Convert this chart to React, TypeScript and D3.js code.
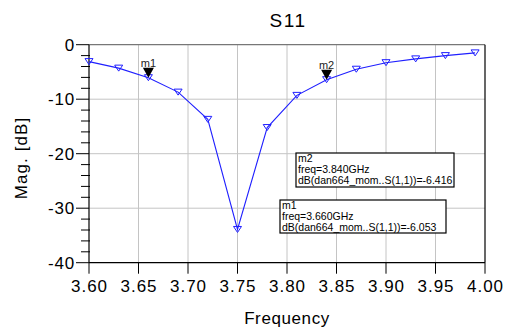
import React from 'react';
import * as d3 from 'd3';

// frequency (GHz) and magnitude (dB)
const freq = [3.6, 3.63, 3.66, 3.69, 3.72, 3.75, 3.78, 3.81, 3.84, 3.87, 3.9, 3.93, 3.96, 3.99];
const mag = [-3.1, -4.3, -6.053, -8.7, -13.7, -33.9, -15.2, -9.3, -6.416, -4.5, -3.3, -2.6, -2.0, -1.5];

const xTicks = [3.6, 3.65, 3.7, 3.75, 3.8, 3.85, 3.9, 3.95, 4.0];
const yTicks = [0, -10, -20, -30, -40];

const markers = [
  { name: 'm1', f: 3.66, v: -6.053, label: '3.660GHz', val: '-6.053' },
  { name: 'm2', f: 3.84, v: -6.416, label: '3.840GHz', val: '-6.416' },
];

const width = 511;
const height = 331;
const margin = { top: 44.7, right: 26, bottom: 68.3, left: 89 };
const font = '"Liberation Sans", Arial, sans-serif';

const App: React.FC = () => {
  const x = d3.scaleLinear().domain([3.6, 4.0]).range([margin.left, width - margin.right]);
  const y = d3.scaleLinear().domain([-40, 0]).range([height - margin.bottom, margin.top]);

  const line = d3.line<number>()
    .x((_, i) => x(freq[i]))
    .y(d => y(d));

  const minorY = d3.range(-40, 0.1, 2).filter(v => v % 10 !== 0);
  const x0 = x(3.6), x1 = x(4.0), y0 = y(-40), y1 = y(0);

  // marker info boxes (m2 above m1)
  const boxes = [
    { m: markers[1], bx: 296, by: 153, bw: 158, bh: 34 },
    { m: markers[0], bx: 280, by: 200, bw: 166, bh: 33 },
  ];

  return (
    <svg width={width} height={height} style={{ position: 'absolute', left: 0, top: 0, background: '#fff' }}
      fontFamily={font}>
      {/* grid */}
      {xTicks.slice(1, -1).map(t => (
        <line key={'gx' + t} x1={x(t)} x2={x(t)} y1={y1} y2={y0} stroke="#c4c4c4" strokeWidth={1} />
      ))}
      {yTicks.slice(1, -1).map(t => (
        <line key={'gy' + t} x1={x0} x2={x1} y1={y(t)} y2={y(t)} stroke="#c4c4c4" strokeWidth={1} />
      ))}
      {/* frame */}
      <line x1={x0} x2={x1} y1={y1} y2={y1} stroke="#777" strokeWidth={1.2} />
      <line x1={x1} x2={x1} y1={y1} y2={y0} stroke="#000" strokeWidth={1.2} />
      <line x1={x0} x2={x1} y1={y0} y2={y0} stroke="#000" strokeWidth={1.2} />
      <line x1={x0} x2={x0} y1={y1} y2={y0} stroke="#000" strokeWidth={1.2} />
      {/* y ticks */}
      {yTicks.map(t => (
        <g key={'yt' + t}>
          <line x1={x0 - 13} x2={x0} y1={y(t)} y2={y(t)} stroke="#000" strokeWidth={1} />
          <text x={x0 - 14} y={y(t)} dy="0.36em" textAnchor="end" fontSize={17} letterSpacing={0.8}>{t}</text>
        </g>
      ))}
      {minorY.map(t => (
        <line key={'my' + t} x1={x0 - 8} x2={x0 + 1} y1={y(t)} y2={y(t)} stroke="#000" strokeWidth={1} />
      ))}
      {/* x ticks */}
      {xTicks.map(t => (
        <g key={'xt' + t}>
          <line x1={x(t)} x2={x(t)} y1={y0} y2={y0 + 11} stroke="#000" strokeWidth={1} />
          <text x={x(t) + 0.5} y={y0 + 29} textAnchor="middle" fontSize={17} letterSpacing={1}>{t.toFixed(2)}</text>
        </g>
      ))}
      {/* curve */}
      <path d={line(mag) || ''} fill="none" stroke="#1f1fff" strokeWidth={1.1} />
      {mag.map((v, i) => {
        const cx = x(freq[i]), cy = y(v);
        return (
          <path key={'p' + i} d={`M${cx - 4},${cy - 3}L${cx + 4},${cy - 3}L${cx},${cy + 3}Z`}
            fill="none" stroke="#1f1fff" strokeWidth={1} />
        );
      })}
      {/* markers */}
      {markers.map(m => {
        const cx = x(m.f), cy = y(m.v);
        return (
          <g key={m.name}>
            <path d={`M${cx - 5.5},${cy - 10}L${cx + 5.5},${cy - 10}L${cx},${cy}Z`} fill="#000" />
            <text x={cx} y={cy - 11} textAnchor="middle" fontSize={11} fill="#222">{m.name}</text>
          </g>
        );
      })}
      {boxes.map(({ m, bx, by, bw, bh }) => (
        <g key={'b' + m.name}>
          <rect x={bx} y={by} width={bw} height={bh} fill="#fff" stroke="#000" strokeWidth={1.2} />
          <text x={bx + 2} y={by + 9} fontSize={10.5}>{m.name}</text>
          <text x={bx + 2} y={by + 20} fontSize={10.5}>freq={m.label}</text>
          <text x={bx + 2} y={by + 31} fontSize={10.5}>dB(dan664_mom..S(1,1))={m.val}</text>
        </g>
      ))}
      {/* titles */}
      <text x={(x0 + x1) / 2 + 1} y={27} textAnchor="middle" fontSize={19} letterSpacing={1.5}>S11</text>
      <text x={(x0 + x1) / 2} y={324} textAnchor="middle" fontSize={17} letterSpacing={0.6}>Frequency</text>
      <text transform={`translate(27,158) rotate(-90)`} textAnchor="middle" fontSize={17} letterSpacing={1.1}>Mag. [dB]</text>
    </svg>
  );
};

export default App;
